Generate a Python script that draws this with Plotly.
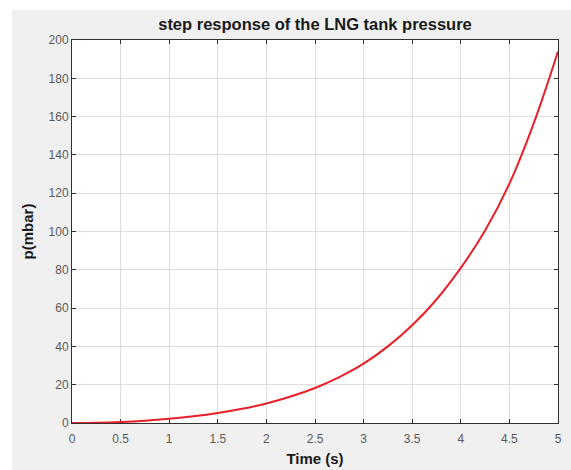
import plotly.graph_objects as go

time_s = [0, 0.25, 0.5, 0.75, 1.0, 1.25, 1.5, 1.75, 2.0, 2.25, 2.5, 2.75,
          3.0, 3.25, 3.5, 3.75, 4.0, 4.25, 4.5, 4.75, 5.0]
pressure_mbar = [0, 0.12, 0.5, 1.2, 2.2, 3.5, 5.2, 7.4, 10.2, 13.8, 18.3, 24.0,
                 31.0, 40.0, 51.0, 64.5, 81.0, 100.5, 125.0, 156.5, 194.0]
x_ticks = [0, 0.5, 1, 1.5, 2, 2.5, 3, 3.5, 4, 4.5, 5]
x_tick_labels = ["0", "0.5", "1", "1.5", "2", "2.5", "3", "3.5", "4", "4.5", "5"]
y_ticks = [0, 20, 40, 60, 80, 100, 120, 140, 160, 180, 200]

W, H = 571, 470
L, R, T, B = 72, 13, 40, 47
pw, ph = W - L - R, H - T - B

def px_to_paper_x(px):
    return (px - L) / pw

def px_to_paper_y(py):
    return (H - B - py) / ph

FONT = "Liberation Sans, Arial, sans-serif"

fig = go.Figure()
fig.add_trace(go.Scatter(
    x=time_s, y=pressure_mbar, mode="lines",
    line=dict(color="#e8202a", width=2, shape="spline", smoothing=1.0),
    showlegend=False,
))

axis_common = dict(
    showline=True, linecolor="#303030", linewidth=1, mirror="ticks",
    ticks="inside", ticklen=4, tickcolor="#303030",
    showgrid=True, gridcolor="#dedede", gridwidth=1,
    zeroline=False, layer="below traces", automargin=False,
    tickfont=dict(family=FONT, size=12, color="#5a5a5a"),
)

fig.update_layout(
    width=W, height=H,
    paper_bgcolor="white", plot_bgcolor="rgba(0,0,0,0)",
    margin=dict(l=L, r=R, t=T, b=B, autoexpand=False),
    shapes=[
        dict(type="rect", xref="paper", yref="paper", layer="below",
             x0=px_to_paper_x(12), x1=px_to_paper_x(W + 2),
             y0=px_to_paper_y(H + 2), y1=px_to_paper_y(10),
             fillcolor="#f0f0f0", line=dict(width=0)),
        dict(type="rect", xref="paper", yref="paper", layer="below",
             x0=0, x1=1, y0=0, y1=1,
             fillcolor="white", line=dict(width=0)),
    ],
    title=dict(text="<b>step response of the LNG tank pressure</b>",
               x=315 / W, xanchor="center", xref="container",
               y=1 - 24 / H, yanchor="middle", yref="container",
               font=dict(family=FONT, size=16.5, color="#1a1a1a")),
    xaxis=dict(range=[0, 5], tickvals=x_ticks, ticktext=x_tick_labels,
               ticklabelstandoff=5,
               title=dict(text="<b>Time (s)</b>", standoff=8,
                          font=dict(family=FONT, size=15, color="#1a1a1a")),
               **axis_common),
    yaxis=dict(range=[0, 200], tickvals=y_ticks,
               title=dict(text="<b>p(mbar)</b>", standoff=11,
                          font=dict(family=FONT, size=15, color="#1a1a1a")),
               **axis_common),
)

fig.write_html("out.html")
